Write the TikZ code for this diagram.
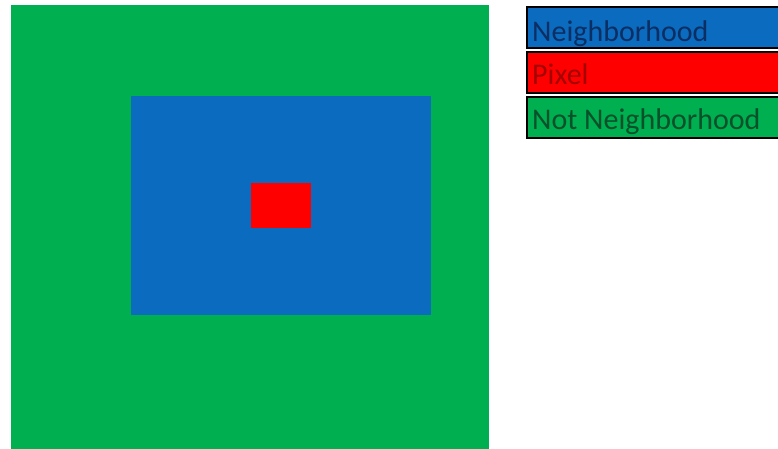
\documentclass[tikz,border=0pt]{standalone}
\usepackage{fontspec}
\setmainfont{Carlito}
\definecolor{offgreen}{HTML}{00AF50}
\definecolor{offblue}{HTML}{0A6BBF}
\definecolor{offred}{HTML}{FF0000}
\definecolor{bluetext}{HTML}{0C2E63}
\definecolor{redtext}{HTML}{A40000}
\definecolor{greentext}{HTML}{06502A}
\begin{document}
\begin{tikzpicture}[x=1pt,y=-1pt,
  area/.style={inner sep=0pt, outer sep=0pt, anchor=north west},
  legbox/.style={inner sep=0pt, outer sep=0pt, anchor=north west, draw=black, line width=2.6pt, minimum width=270pt, minimum height=41pt},
  legtext/.style={anchor=base west, inner sep=0pt, font=\fontsize{30}{32}\selectfont}]
\useasboundingbox (0,0) rectangle (778,448);
% squares
\node[area, fill=offgreen, minimum width=478pt, minimum height=445pt] (outer) at (11,5) {};
\node[area, fill=offblue, minimum width=300pt, minimum height=219pt] (nbh) at (131,96) {};
\node[area, fill=offred, minimum width=60pt, minimum height=45pt] (pix) at (251,183) {};
% legend
\node[legbox, fill=offblue] (lb) at (527,7) {};
\node[legbox, fill=offred] (lr) at (527,52) {};
\node[legbox, fill=offgreen] (lg) at (527,97) {};
\node[legtext, text=bluetext] (tb) at (532,41) {Neighborhood};
\node[legtext, text=redtext] (tr) at (532,84) {Pixel};
\node[legtext, text=greentext] (tg) at (532,129) {Not Neighborhood};
\end{tikzpicture}
\end{document}
